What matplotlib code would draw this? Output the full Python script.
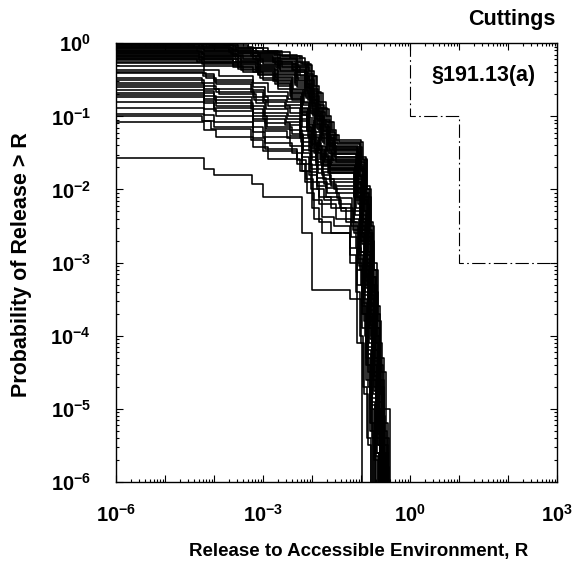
"""CCDFs of normalized cuttings release to the accessible environment (log-log)."""

import matplotlib

matplotlib.use("Agg")
import matplotlib.pyplot as plt
import numpy as np
from matplotlib.ticker import FuncFormatter, LogLocator, NullFormatter

# one CCDF per row: log10 R where the curve steps, and log10 P(release > R) after the step
CURVE_LOG_R = [
    [-6.2, -4.3, -3.6, -3.2, -2.7, -2.3, -2.05, -1.95, -1.85, -1.72, -1.6, -1.5, -1.0, -0.9, -0.82, -0.76, -0.68, -0.6, -0.52, -0.44],
    [-6.2, -4.5, -3.8, -3.3, -2.9, -2.45, -2.15, -2.0, -1.9, -1.78, -1.66, -1.55, -1.45, -0.95, -0.87, -0.8, -0.73, -0.65, -0.56, -0.41],
    [-6.2, -4.1, -3.5, -3.0, -2.6, -2.2, -2.02, -1.92, -1.82, -1.7, -1.58, -1.48, -1.02, -0.93, -0.85, -0.78, -0.7, -0.61, -0.53, -0.46],
    [-6.2, -4.25, -3.55, -3.15, -2.65, -2.25, -2.08, -1.97, -1.87, -1.75, -1.62, -1.52, -1.02, -0.92, -0.84, -0.77, -0.7, -0.62, -0.55, -0.47],
    [-6.2, -4.3, -3.65, -3.2, -2.72, -2.32, -2.12, -2.0, -1.9, -1.79, -1.67, -1.55, -1.07, -0.96, -0.87, -0.8, -0.71, -0.62, -0.54, -0.44],
    [-6.2, -4.4, -3.7, -3.25, -2.75, -2.3, -2.1, -2.0, -1.9, -1.78, -1.65, -1.55, -1.05, -0.95, -0.86, -0.8, -0.72, -0.64, -0.56, -0.5],
    [-6.2, -4.2, -3.55, -3.1, -2.65, -2.28, -2.06, -1.96, -1.86, -1.74, -1.62, -1.52, -1.0, -0.91, -0.83, -0.76, -0.69, -0.61, -0.52, -0.45],
    [-6.2, -4.3, -3.6, -3.2, -2.7, -2.35, -2.12, -2.02, -1.92, -1.8, -1.68, -1.56, -0.98, -0.88, -0.8, -0.74, -0.66, -0.58, -0.48, -0.42],
    [-6.2, -4.35, -3.7, -3.25, -2.8, -2.38, -2.14, -2.04, -1.94, -1.82, -1.69, -1.57, -1.05, -0.94, -0.86, -0.79, -0.7, -0.62, -0.54, -0.47],
    [-6.2, -4.2, -3.5, -3.1, -2.8, -2.4, -2.15, -2.05, -1.95, -1.83, -1.7, -1.58, -1.08, -0.96, -0.88, -0.8, -0.73, -0.65, -0.57, -0.52],
    [-6.2, -4.2, -3.5, -3.05, -2.65, -2.3, -2.1, -2.0, -1.89, -1.77, -1.65, -1.53, -1.03, -0.94, -0.86, -0.78, -0.7, -0.62, -0.54, -0.48],
    [-6.2, -4.35, -3.65, -3.2, -2.75, -2.3, -2.1, -1.98, -1.88, -1.76, -1.64, -1.52, -1.0, -0.9, -0.83, -0.76, -0.68, -0.6, -0.53, -0.45],
    [-6.2, -4.3, -3.6, -3.15, -2.7, -2.33, -2.12, -2.01, -1.91, -1.79, -1.66, -1.55, -1.09, -0.98, -0.89, -0.81, -0.73, -0.65, -0.57, -0.5],
    [-6.2, -4.25, -3.55, -3.05, -2.6, -2.25, -2.05, -1.95, -1.84, -1.72, -1.6, -1.5, -1.03, -0.93, -0.85, -0.78, -0.71, -0.63, -0.55, -0.49],
    [-6.2, -4.25, -3.5, -3.1, -2.7, -2.3, -2.1, -1.99, -1.88, -1.77, -1.64, -1.53, -1.01, -0.92, -0.84, -0.77, -0.69, -0.61, -0.52, -0.44],
    [-6.2, -4.3, -3.4, -3.0, -2.65, -2.28, -2.1, -2.0, -1.9, -1.8, -1.66, -1.54, -1.06, -0.97, -0.89, -0.82, -0.75, -0.67, -0.6, -0.53],
    [-6.2, -4.2, -3.45, -3.05, -2.65, -2.32, -2.14, -2.03, -1.93, -1.82, -1.7, -1.58, -1.1, -1.0, -0.9, -0.83, -0.75, -0.67, -0.59, -0.52],
    [-6.2, -4.2, -3.5, -3.1, -2.7, -2.35, -2.15, -2.03, -1.93, -1.82, -1.7, -1.58, -1.1, -0.99, -0.9, -0.82, -0.74, -0.66, -0.58, -0.51],
    [-6.2, -4.3, -3.55, -3.1, -2.72, -2.35, -2.12, -2.0, -1.9, -1.79, -1.67, -1.56, -1.06, -0.95, -0.87, -0.79, -0.71, -0.63, -0.55, -0.47],
    [-6.2, -4.3, -3.6, -3.15, -2.75, -2.3, -2.08, -1.97, -1.86, -1.75, -1.62, -1.5, -1.0, -0.9, -0.82, -0.75, -0.67, -0.59, -0.5, -0.43],
    [-6.2, -4.25, -3.5, -3.1, -2.75, -2.38, -2.16, -2.04, -1.94, -1.83, -1.71, -1.59, -1.08, -0.97, -0.88, -0.81, -0.73, -0.65, -0.57, -0.5],
    [-6.2, -4.2, -3.45, -3.05, -2.7, -2.4, -2.18, -2.06, -1.95, -1.84, -1.72, -1.6, -1.12, -1.0, -0.92, -0.85, -0.77, -0.69, -0.61, -0.55],
    [-6.2, -4.3, -3.6, -3.15, -2.78, -2.4, -2.18, -2.06, -1.96, -1.85, -1.73, -1.61, -1.1, -0.99, -0.9, -0.83, -0.75, -0.67, -0.59, -0.53],
    [-6.2, -4.35, -3.6, -3.2, -2.8, -2.42, -2.2, -2.08, -1.97, -1.86, -1.74, -1.62, -1.04, -0.94, -0.86, -0.79, -0.72, -0.64, -0.56, -0.46],
    [-6.2, -4.2, -3.5, -3.1, -2.72, -2.42, -2.2, -2.08, -1.98, -1.87, -1.75, -1.63, -1.14, -1.02, -0.93, -0.85, -0.77, -0.69, -0.61, -0.56],
    [-6.2, -4.25, -3.5, -3.1, -2.75, -2.45, -2.22, -2.1, -2.0, -1.88, -1.76, -1.64, -1.08, -0.97, -0.88, -0.8, -0.72, -0.63, -0.55, -0.48],
    [-6.2, -4.25, -3.45, -3.05, -2.7, -2.42, -2.22, -2.1, -2.0, -1.9, -1.77, -1.65, -1.1, -0.98, -0.89, -0.81, -0.73, -0.65, -0.57, -0.5],
    [-6.2, -4.2, -3.4, -3.0, -2.7, -2.4, -2.2, -2.1, -2.0, -1.9, -1.78, -1.66, -1.12, -1.0, -0.92, -0.84, -0.76, -0.68, -0.6, -0.54],
    [-6.2, -4.2, -3.9, -3.2, -2.9, -2.48, -2.22, -2.06, -1.94, -1.82, -1.68, -1.13, -1.0, -0.91, -0.83, -0.75, -0.67, -0.57],
    [-6.2, -4.2, -4.0, -3.2, -2.95, -2.5, -2.2, -2.05, -1.92, -1.8, -1.65, -1.1, -0.98, -0.9, -0.82, -0.75, -0.67, -0.58],
    [-6.2, -4.22, -4.0, -3.22, -2.97, -2.52, -2.23, -2.06, -1.93, -1.81, -1.66, -1.08, -0.97, -0.89, -0.81, -0.74, -0.66, -0.57],
    [-6.2, -4.15, -3.95, -3.25, -3.0, -2.55, -2.25, -2.08, -1.95, -1.82, -1.68, -1.15, -1.02, -0.93, -0.85, -0.77, -0.7, -0.62],
    [-6.2, -4.25, -4.0, -3.2, -2.9, -2.45, -2.2, -2.02, -1.9, -1.78, -1.62, -1.05, -0.95, -0.87, -0.8, -0.73, -0.65, -0.56],
    [-6.2, -4.2, -3.95, -3.18, -2.93, -2.48, -2.22, -2.04, -1.91, -1.79, -1.63, -1.1, -0.98, -0.9, -0.82, -0.74, -0.66, -0.58],
    [-6.2, -4.2, -3.9, -3.15, -2.95, -2.5, -2.25, -2.05, -1.92, -1.8, -1.6, -1.12, -1.0, -0.92, -0.84, -0.76, -0.68, -0.6],
    [-6.2, -4.2, -4.0, -3.22, -2.97, -2.52, -2.24, -2.02, -1.9, -1.77, -1.55, -1.13, -1.02, -0.93, -0.85, -0.78, -0.7, -0.63],
    [-6.2, -4.2, -4.0, -3.25, -3.0, -2.55, -2.22, -2.0, -1.88, -1.75, -1.5, -1.15, -1.04, -0.95, -0.87, -0.8, -0.72, -0.64],
    [-6.2, -4.2, -3.95, -3.2, -2.95, -2.45, -2.2, -2.01, -1.89, -1.72, -1.48, -1.18, -1.05, -0.96, -0.88, -0.8, -0.72, -0.65],
    [-6.2, -4.2, -3.95, -3.2, -2.92, -2.4, -2.18, -2.02, -1.9, -1.7, -1.45, -1.2, -1.06, -0.97, -0.89, -0.81, -0.73, -0.66],
    [-6.2, -4.2, -4.0, -3.2, -2.94, -2.45, -2.19, -2.03, -1.9, -1.72, -1.42, -1.17, -1.04, -0.95, -0.87, -0.79, -0.71],
    [-6.2, -4.2, -4.0, -3.2, -2.95, -2.5, -2.2, -2.05, -1.9, -1.75, -1.4, -1.15, -1.02, -0.94, -0.86, -0.78, -0.7],
    [-6.2, -4.2, -3.95, -3.2, -3.0, -2.45, -2.2, -2.0, -1.85, -1.6, -1.3, -1.1, -1.0, -0.92, -0.85, -0.78, -0.72],
    [-6.2, -4.2, -4.0, -3.2, -2.95, -2.4, -2.2, -2.02, -1.85, -1.5, -1.2, -1.08, -0.98, -0.9, -0.82, -0.75],
    [-6.2, -4.2, -4.0, -3.2, -2.95, -2.3, -2.12, -1.98, -1.8, -1.55, -1.22, -1.08, -0.98, -0.9, -0.82, -0.76],
    [-6.2, -4.25, -4.05, -3.25, -3.0, -2.3, -2.15, -2.0, -1.85, -1.6, -1.22, -1.1, -1.02, -0.95, -0.87, -0.8],
    [-6.2, -4.2, -3.95, -3.2, -2.9, -2.25, -2.1, -1.95, -1.8, -1.22, -1.08, -1.0, -0.93, -0.86, -0.8],
    [-6.2, -4.2, -4.0, -3.22, -3.0, -2.2, -2.0, -1.22, -1.08, -0.98],
]
CURVE_LOG_P = [
    [-0.005, -0.02, -0.05, -0.1, -0.16, -0.25, -0.38, -0.58, -0.8, -1.0, -1.18, -1.33, -1.55, -1.95, -2.45, -3.0, -3.6, -4.3, -5.2, -7],
    [0.0, -0.01, -0.03, -0.07, -0.12, -0.2, -0.3, -0.45, -0.68, -0.9, -1.08, -1.25, -1.35, -1.6, -2.1, -2.7, -3.4, -4.1, -5.0, -7],
    [-0.01, -0.03, -0.06, -0.11, -0.17, -0.28, -0.45, -0.66, -0.88, -1.08, -1.26, -1.38, -1.62, -2.05, -2.6, -3.2, -3.9, -4.6, -5.4, -7],
    [-0.02, -0.035, -0.07, -0.12, -0.18, -0.27, -0.42, -0.62, -0.85, -1.05, -1.22, -1.36, -1.6, -2.0, -2.55, -3.1, -3.7, -4.4, -5.3, -7],
    [-0.03, -0.045, -0.08, -0.13, -0.2, -0.31, -0.47, -0.68, -0.9, -1.1, -1.28, -1.42, -1.68, -2.1, -2.65, -3.3, -4.0, -4.8, -5.6, -7],
    [-0.035, -0.05, -0.09, -0.14, -0.21, -0.3, -0.45, -0.65, -0.88, -1.08, -1.25, -1.4, -1.65, -2.1, -2.6, -3.2, -3.9, -4.6, -5.4, -7],
    [-0.045, -0.065, -0.1, -0.15, -0.22, -0.33, -0.5, -0.72, -0.94, -1.14, -1.3, -1.44, -1.63, -2.05, -2.6, -3.2, -3.9, -4.7, -5.5, -7],
    [-0.05, -0.07, -0.11, -0.16, -0.24, -0.34, -0.5, -0.7, -0.92, -1.12, -1.3, -1.42, -1.58, -2.0, -2.5, -3.1, -3.8, -4.5, -5.4, -7],
    [-0.06, -0.08, -0.12, -0.18, -0.25, -0.36, -0.52, -0.73, -0.95, -1.15, -1.32, -1.45, -1.72, -2.15, -2.7, -3.3, -4.0, -4.7, -5.5, -7],
    [-0.07, -0.09, -0.13, -0.19, -0.26, -0.37, -0.54, -0.74, -0.97, -1.17, -1.33, -1.46, -1.7, -2.15, -2.7, -3.3, -4.0, -4.7, -5.5, -7],
    [-0.08, -0.1, -0.14, -0.2, -0.28, -0.39, -0.56, -0.78, -1.0, -1.2, -1.36, -1.48, -1.72, -2.2, -2.75, -3.4, -4.1, -4.8, -5.6, -7],
    [-0.09, -0.11, -0.15, -0.21, -0.29, -0.4, -0.57, -0.78, -1.0, -1.2, -1.38, -1.5, -1.75, -2.2, -2.7, -3.3, -4.0, -4.8, -5.6, -7],
    [-0.1, -0.12, -0.17, -0.23, -0.31, -0.43, -0.6, -0.82, -1.04, -1.24, -1.4, -1.52, -1.82, -2.3, -2.85, -3.45, -4.1, -4.9, -5.7, -7],
    [-0.11, -0.13, -0.18, -0.24, -0.32, -0.45, -0.62, -0.83, -1.05, -1.25, -1.4, -1.52, -1.8, -2.3, -2.9, -3.5, -4.1, -4.9, -5.6, -7],
    [-0.12, -0.15, -0.2, -0.26, -0.34, -0.47, -0.65, -0.86, -1.07, -1.27, -1.42, -1.55, -1.83, -2.3, -2.85, -3.5, -4.2, -5.0, -5.7, -7],
    [-0.13, -0.16, -0.21, -0.28, -0.36, -0.5, -0.68, -0.9, -1.1, -1.3, -1.45, -1.56, -1.85, -2.35, -2.9, -3.5, -4.2, -5.0, -5.7, -7],
    [-0.14, -0.17, -0.23, -0.3, -0.38, -0.52, -0.7, -0.92, -1.12, -1.3, -1.46, -1.58, -1.9, -2.4, -2.95, -3.55, -4.3, -5.0, -5.8, -7],
    [-0.15, -0.18, -0.24, -0.31, -0.4, -0.55, -0.72, -0.95, -1.15, -1.33, -1.48, -1.6, -1.9, -2.4, -3.0, -3.6, -4.3, -5.0, -5.8, -7],
    [-0.16, -0.19, -0.25, -0.33, -0.42, -0.57, -0.75, -0.97, -1.17, -1.35, -1.5, -1.61, -1.92, -2.45, -3.0, -3.6, -4.3, -5.1, -5.8, -7],
    [-0.17, -0.2, -0.26, -0.34, -0.44, -0.6, -0.78, -1.0, -1.2, -1.38, -1.52, -1.62, -1.95, -2.45, -3.0, -3.6, -4.3, -5.1, -5.8, -7],
    [-0.18, -0.21, -0.27, -0.35, -0.46, -0.62, -0.8, -1.02, -1.22, -1.4, -1.54, -1.64, -1.98, -2.5, -3.05, -3.65, -4.35, -5.1, -5.9, -7],
    [-0.19, -0.22, -0.29, -0.37, -0.48, -0.64, -0.82, -1.05, -1.25, -1.42, -1.56, -1.66, -2.0, -2.5, -3.1, -3.7, -4.4, -5.1, -5.9, -7],
    [-0.2, -0.23, -0.3, -0.38, -0.5, -0.66, -0.85, -1.08, -1.28, -1.44, -1.58, -1.68, -2.02, -2.55, -3.1, -3.7, -4.4, -5.2, -5.9, -7],
    [-0.21, -0.25, -0.32, -0.4, -0.52, -0.68, -0.88, -1.1, -1.3, -1.46, -1.6, -1.7, -2.05, -2.55, -3.1, -3.7, -4.4, -5.2, -5.9, -7],
    [-0.22, -0.26, -0.33, -0.42, -0.54, -0.7, -0.9, -1.12, -1.32, -1.48, -1.62, -1.72, -2.08, -2.6, -3.15, -3.75, -4.5, -5.2, -6.0, -7],
    [-0.23, -0.27, -0.35, -0.44, -0.56, -0.72, -0.92, -1.15, -1.35, -1.5, -1.63, -1.73, -2.1, -2.6, -3.2, -3.8, -4.5, -5.3, -6.0, -7],
    [-0.25, -0.29, -0.37, -0.47, -0.59, -0.75, -0.95, -1.18, -1.38, -1.53, -1.66, -1.76, -2.12, -2.65, -3.25, -3.85, -4.55, -5.3, -6.0, -7],
    [-0.27, -0.31, -0.4, -0.5, -0.62, -0.78, -0.98, -1.2, -1.4, -1.55, -1.68, -1.78, -2.15, -2.7, -3.3, -3.9, -4.6, -5.3, -6.0, -7],
    [-0.31, -0.37, -0.45, -0.55, -0.67, -0.76, -0.94, -1.16, -1.36, -1.52, -1.66, -1.98, -2.45, -3.05, -3.7, -4.4, -5.2, -7],
    [-0.36, -0.42, -0.5, -0.6, -0.72, -0.8, -0.98, -1.2, -1.4, -1.55, -1.7, -2.0, -2.5, -3.1, -3.8, -4.5, -5.3, -7],
    [-0.39, -0.45, -0.53, -0.64, -0.77, -0.85, -1.03, -1.25, -1.46, -1.6, -1.74, -2.05, -2.55, -3.15, -3.85, -4.55, -5.35, -7],
    [-0.41, -0.48, -0.56, -0.67, -0.8, -0.88, -1.06, -1.28, -1.5, -1.65, -1.78, -2.1, -2.6, -3.2, -3.9, -4.6, -5.4, -7],
    [-0.47, -0.54, -0.62, -0.73, -0.86, -0.95, -1.15, -1.38, -1.58, -1.72, -1.85, -2.2, -2.7, -3.3, -4.0, -4.7, -5.5, -7],
    [-0.5, -0.58, -0.66, -0.78, -0.9, -0.99, -1.2, -1.43, -1.62, -1.76, -1.9, -2.25, -2.75, -3.35, -4.05, -4.75, -5.5, -7],
    [-0.54, -0.62, -0.7, -0.82, -0.95, -1.04, -1.25, -1.48, -1.66, -1.8, -1.95, -2.3, -2.85, -3.4, -4.1, -4.8, -5.6, -7],
    [-0.57, -0.65, -0.74, -0.86, -1.0, -1.08, -1.3, -1.55, -1.72, -1.86, -2.0, -2.35, -2.85, -3.45, -4.15, -4.85, -5.6, -7],
    [-0.6, -0.68, -0.77, -0.9, -1.04, -1.12, -1.35, -1.6, -1.78, -1.92, -2.05, -2.4, -2.9, -3.5, -4.2, -4.9, -5.6, -7],
    [-0.64, -0.72, -0.82, -0.95, -1.09, -1.18, -1.4, -1.66, -1.84, -1.98, -2.12, -2.45, -2.95, -3.55, -4.25, -4.95, -5.65, -7],
    [-0.68, -0.76, -0.86, -1.0, -1.14, -1.24, -1.46, -1.72, -1.9, -2.05, -2.2, -2.5, -3.0, -3.6, -4.3, -5.0, -5.7, -7],
    [-0.71, -0.79, -0.89, -1.03, -1.17, -1.27, -1.5, -1.76, -1.95, -2.1, -2.25, -2.55, -3.05, -3.7, -4.4, -5.2, -7],
    [-0.74, -0.82, -0.92, -1.06, -1.2, -1.3, -1.55, -1.8, -2.0, -2.15, -2.3, -2.6, -3.1, -3.8, -4.5, -5.3, -7],
    [-0.81, -0.9, -1.0, -1.14, -1.28, -1.4, -1.65, -1.9, -2.1, -2.25, -2.45, -2.8, -3.3, -4.0, -4.7, -5.4, -7],
    [-0.89, -0.98, -1.08, -1.22, -1.36, -1.5, -1.75, -2.0, -2.2, -2.4, -2.65, -3.1, -3.7, -4.4, -5.2, -7],
    [-0.97, -1.06, -1.15, -1.3, -1.45, -1.6, -1.85, -2.15, -2.38, -2.5, -2.8, -3.3, -3.9, -4.6, -5.3, -7],
    [-0.99, -1.07, -1.17, -1.33, -1.48, -1.65, -1.9, -2.25, -2.45, -2.6, -2.9, -3.4, -4.0, -4.7, -5.4, -7],
    [-1.08, -1.18, -1.28, -1.42, -1.58, -1.75, -2.05, -2.4, -2.6, -3.0, -3.5, -4.1, -4.8, -5.5, -7],
    [-1.57, -1.72, -1.8, -1.92, -2.1, -2.6, -3.37, -3.5, -4.1, -7],
]

# EPA release limit of section 191.13(a)
LIMIT_R = [1.0, 1.0, 10.0, 10.0, 1000.0]
LIMIT_P = [1.0, 0.1, 0.1, 0.001, 0.001]

plt.rcParams["font.family"] = ["Liberation Sans", "DejaVu Sans"]
plt.rcParams["font.weight"] = "bold"
plt.rcParams["mathtext.fontset"] = "custom"
plt.rcParams["mathtext.rm"] = "Liberation Sans:bold"
plt.rcParams["mathtext.bf"] = "Liberation Sans:bold"


def _decade_label(every):
    """Format log ticks as bold 10^n, labelling only every `every`-th decade."""

    def fmt(value, _pos):
        exp = int(round(np.log10(value)))
        if exp % every:
            return ""
        return rf"$\mathbf{{10^{{{exp}}}}}$"

    return FuncFormatter(fmt)


fig = plt.figure(figsize=(5.85, 5.69), dpi=100)
ax = fig.add_axes([0.198, 0.153, 0.754, 0.771])

for log_r, log_p in zip(CURVE_LOG_R, CURVE_LOG_P, strict=True):
    ax.step(10.0 ** np.array(log_r), 10.0 ** np.array(log_p), where="post",
            color="black", lw=1.15)

ax.plot(LIMIT_R, LIMIT_P, color="black", lw=0.8, dashes=(12, 3, 1.5, 3))
ax.text(31, 0.36, "§191.13(a)", ha="center", va="center", fontsize=15.5,
        fontweight="bold")

ax.set_xscale("log")
ax.set_yscale("log")
ax.set_xlim(1e-6, 1e3)
ax.set_ylim(1e-6, 1e0)

for axis, every in ((ax.xaxis, 3), (ax.yaxis, 1)):
    axis.set_major_locator(LogLocator(base=10, numticks=20))
    axis.set_minor_locator(LogLocator(base=10, subs=np.arange(2, 10), numticks=200))
    axis.set_major_formatter(_decade_label(every))
    axis.set_minor_formatter(NullFormatter())

ax.tick_params(which="both", direction="in", top=True, right=True, width=0.8)
ax.tick_params(which="major", length=5, labelsize=14.5)
ax.tick_params(which="minor", length=2.5)
ax.tick_params(axis="y", which="major", pad=18)
ax.tick_params(axis="x", which="major", pad=16)
for spine in ax.spines.values():
    spine.set_linewidth(1.0)

ax.set_xlabel("Release to Accessible Environment, R", fontsize=13.5,
              fontweight="bold")
ax.xaxis.set_label_coords(0.55, -0.14)
ax.set_ylabel("Probability of Release > R", fontsize=15.5, fontweight="bold")
ax.yaxis.set_label_coords(-0.19, 0.495)
fig.text(0.95, 0.985, "Cuttings", ha="right", va="top", fontsize=15.5,
         fontweight="bold")

fig.savefig("out.png", dpi=100)
